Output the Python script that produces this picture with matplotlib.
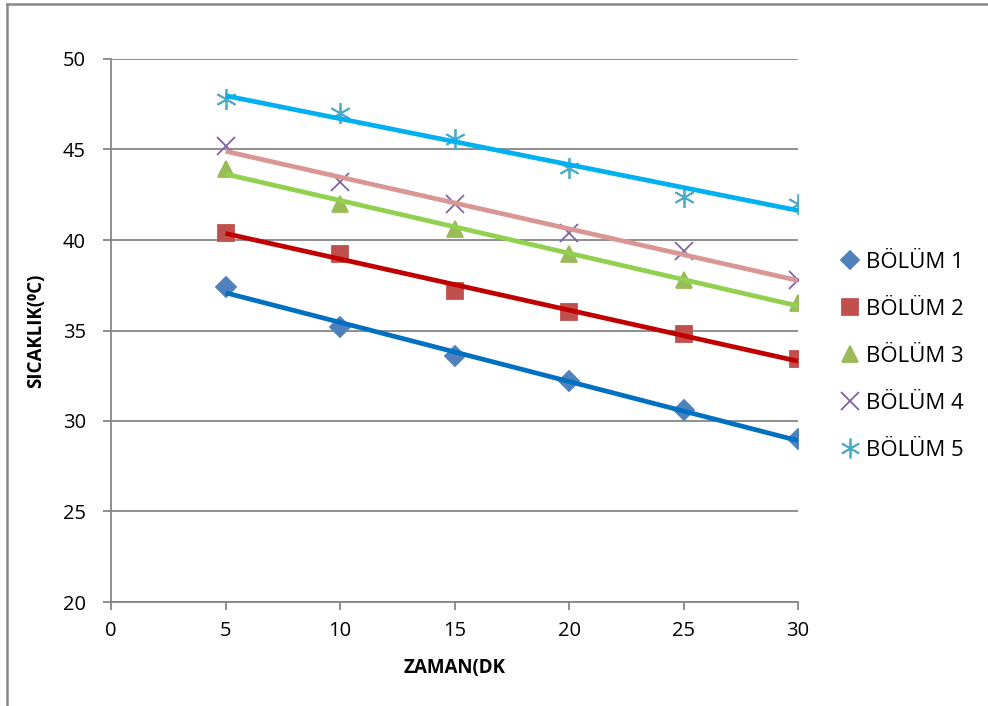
import matplotlib.pyplot as plt
from matplotlib.lines import Line2D
import numpy as np

plt.rcParams['font.family'] = ['Open Sans', 'DejaVu Sans']

# sampling times (minutes)
zaman = [5, 10, 15, 20, 25, 30]

# temperature readings per section (°C)
bolum_1 = [37.4, 35.2, 33.6, 32.2, 30.6, 29.0]
bolum_2 = [40.4, 39.2, 37.2, 36.0, 34.8, 33.4]
bolum_3 = [43.9, 42.0, 40.6, 39.2, 37.8, 36.5]
bolum_4 = [45.2, 43.2, 42.0, 40.4, 39.4, 37.8]
bolum_5 = [47.8, 47.0, 45.6, 44.0, 42.4, 42.0]

labels = ['BÖLÜM 1', 'BÖLÜM 2', 'BÖLÜM 3', 'BÖLÜM 4', 'BÖLÜM 5']
series = [bolum_1, bolum_2, bolum_3, bolum_4, bolum_5]

marker_colors = ['#4F81BD', '#C0504D', '#9BBB59', '#8064A2', '#4BACC6']
trend_colors = ['#0070C0', '#C00000', '#92D050', '#DA9694', '#00B0F0']
markers = ['D', 's', '^', 'x', (6, 2, 0)]
sizes = [10, 12, 12, 13, 15]

fig = plt.figure(figsize=(9.88, 7.06), dpi=100)
ax = fig.add_axes([111 / 988, 1 - 602 / 706, 687 / 988, 543 / 706])

x = np.array(zaman, dtype=float)
handles = []
for vals, lab, mc, tc, mk, ms in zip(series, labels, marker_colors,
                                     trend_colors, markers, sizes):
    y = np.array(vals)
    ax.plot(x, y, linestyle='none', marker=mk, markersize=ms,
            color=mc, markeredgewidth=1.3, zorder=3)
    # linear trend line
    k, b = np.polyfit(x, y, 1)
    xs = np.array([x.min(), x.max()])
    ax.plot(xs, k * xs + b, color=tc, linewidth=3.4, zorder=4,
            solid_capstyle='butt')
    handles.append(Line2D([], [], linestyle='none', marker=mk,
                          markersize=ms * 0.95, color=mc,
                          markeredgewidth=1.3, label=lab))

ax.set_xlim(0, 30)
ax.set_ylim(20, 50)
ax.set_xticks(range(0, 31, 5))
ax.set_yticks(range(20, 51, 5))
ax.yaxis.grid(True, color='#868686', linewidth=1.3)
ax.set_axisbelow(True)

for side in ('top', 'right'):
    ax.spines[side].set_visible(False)
for side in ('left', 'bottom'):
    ax.spines[side].set_color('#868686')
    ax.spines[side].set_linewidth(1.3)
ax.tick_params(axis='both', colors='#868686', length=6, width=1.3,
               labelcolor='black', labelsize=14.5)
ax.tick_params(axis='x', pad=8)
ax.tick_params(axis='y', pad=12)

ax.set_xlabel('ZAMAN(DK', fontsize=13.5, fontweight='bold', labelpad=12)
ax.set_ylabel('SICAKLIK(⁰C)', fontsize=13.5, fontweight='bold', labelpad=12)

fig.legend(handles=handles, loc='upper left',
           bbox_to_anchor=(832 / 988, 1 - 243 / 706), frameon=False,
           fontsize=16, labelspacing=1.17, handlelength=0.8,
           handletextpad=0.35, borderaxespad=0)

# chart frame on the left and top edges
fig.add_artist(Line2D([7 / 988, 7 / 988], [0, 1 - 4 / 706],
                      transform=fig.transFigure, color='#888888', lw=1.8))
fig.add_artist(Line2D([7 / 988, 1], [1 - 4 / 706, 1 - 4 / 706],
                      transform=fig.transFigure, color='#888888', lw=1.8))

fig.savefig('out.png', dpi=100)
